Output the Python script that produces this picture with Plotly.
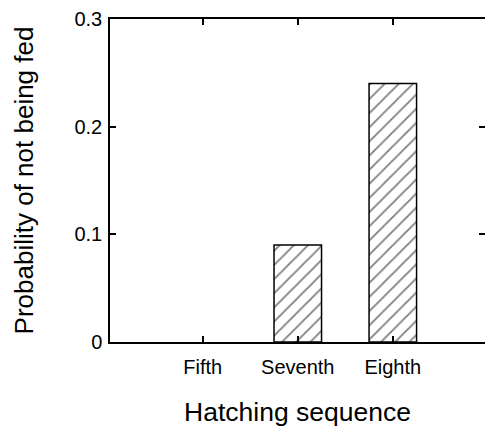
import plotly.graph_objects as go

categories = ["Fifth", "Seventh", "Eighth"]
values = [0.0, 0.09, 0.24]
y_ticks = [0, 0.1, 0.2, 0.3]
y_tick_labels = ["0", "0.1", "0.2", "0.3"]

FONT = "Liberation Sans, Arial, Helvetica, sans-serif"

fig = go.Figure()
fig.add_trace(go.Bar(
    x=categories, y=values, width=0.5,
    marker=dict(color="white",
                line=dict(color="black", width=[0, 1.5, 1.5]),
                pattern=dict(shape="/", size=10, solidity=0.18,
                             fgcolor="black", bgcolor="white")),
    showlegend=False, hoverinfo="skip",
))
# invisible trace for right-side tick axis
fig.add_trace(go.Scatter(x=categories, y=values, yaxis="y2", mode="markers",
                         marker=dict(opacity=0), showlegend=False, hoverinfo="skip"))

fig.update_layout(
    width=485, height=427,
    margin=dict(l=110, r=0, t=19, b=85),
    paper_bgcolor="white", plot_bgcolor="white",
    font=dict(family=FONT, color="black"),
    xaxis=dict(
        type="category", range=[-0.976, 2.97],
        showline=True, linecolor="black", linewidth=1.5, mirror="ticks",
        ticks="inside", ticklen=6, tickwidth=1.5, tickcolor="black",
        showgrid=False, zeroline=False,
        tickfont=dict(size=20, family=FONT), ticklabelstandoff=6,
        title=dict(text="Hatching sequence", font=dict(size=26.5, family=FONT), standoff=31),
    ),
    yaxis=dict(
        range=[0, 0.3], tickvals=y_ticks, ticktext=y_tick_labels,
        showline=True, linecolor="black", linewidth=1.5,
        ticks="inside", ticklen=6, tickwidth=1.5, tickcolor="black",
        showgrid=False, zeroline=False,
        tickfont=dict(size=20, family=FONT), ticklabelstandoff=2,
        title=dict(text="Probability of not being fed", font=dict(size=26, family=FONT), standoff=33),
    ),
    yaxis2=dict(
        range=[0, 0.3], tickvals=y_ticks, overlaying="y", side="right",
        showline=False, ticks="inside", ticklen=6, tickwidth=1.5, tickcolor="black",
        showticklabels=False, showgrid=False, zeroline=False,
    ),
)

fig.write_html(
    "out.html",
    config={"displayModeBar": False},
    post_script=(
        "document.body.style.margin='0';"
        "document.body.style.overflow='hidden';"
        "document.documentElement.style.overflow='hidden';"
    ),
)
